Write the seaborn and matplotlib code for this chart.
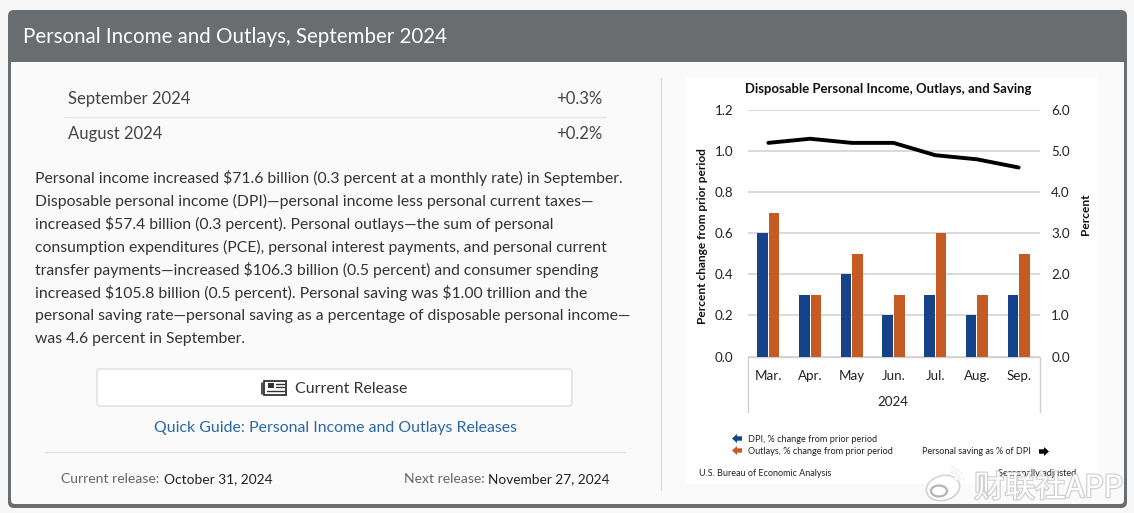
import pandas as pd
import seaborn as sns
import matplotlib.pyplot as plt
import matplotlib.patheffects as pe
from matplotlib.patches import FancyBboxPatch, Rectangle, Polygon, Ellipse, Arc

# Data
months = ['Mar.', 'Apr.', 'May', 'Jun.', 'Jul.', 'Aug.', 'Sep.']
dpi_change = [0.6, 0.3, 0.4, 0.2, 0.3, 0.2, 0.3]
outlays_change = [0.7, 0.3, 0.5, 0.3, 0.6, 0.3, 0.5]
saving_rate = [5.2, 5.3, 5.2, 5.2, 4.9, 4.8, 4.6]
left_ticks = [0.0, 0.2, 0.4, 0.6, 0.8, 1.0, 1.2]
right_ticks = [0.0, 1.0, 2.0, 3.0, 4.0, 5.0, 6.0]

monthly_rows = [('September 2024', '+0.3%'), ('August 2024', '+0.2%')]
body_lines = [
    'Personal income increased $71.6 billion (0.3 percent at a monthly rate) in September.',
    'Disposable personal income (DPI)—personal income less personal current taxes—',
    'increased $57.4 billion (0.3 percent). Personal outlays—the sum of personal',
    'consumption expenditures (PCE), personal interest payments, and personal current',
    'transfer payments—increased $106.3 billion (0.5 percent) and consumer spending',
    'increased $105.8 billion (0.5 percent). Personal saving was $1.00 trillion and the',
    'personal saving rate—personal saving as a percentage of disposable personal income—',
    'was 4.6 percent in September.',
]

W, H = 1134, 513
BLUE = '#15438a'
ORANGE = '#c55a22'
DARK = '#6a6d70'

sns.set_theme(style='white')
plt.rcParams['font.family'] = ['Lato', 'DejaVu Sans']

fig = plt.figure(figsize=(W / 100, H / 100), dpi=100, facecolor='#f7f7f7')

# Page layer, drawn in pixel coordinates
bg = fig.add_axes([0, 0, 1, 1], zorder=0)
bg.set_xlim(0, W)
bg.set_ylim(H, 0)
bg.axis('off')

bg.add_patch(FancyBboxPatch((11, 13), 1113, 492, boxstyle='round,pad=3,rounding_size=6',
                            fc=DARK, ec='none'))
bg.add_patch(FancyBboxPatch((12, 63), 1111, 440, boxstyle='round,pad=1,rounding_size=4',
                            fc='#fafafa', ec='none'))
bg.add_patch(Rectangle((11, 62), 1113, 6, fc='#fafafa', ec='none'))
bg.add_patch(Rectangle((686, 77), 413, 407, fc='white', ec='none'))
bg.plot([660.5, 660.5], [78, 490], color='#dddddd', lw=1)

bg.text(23, 37, 'Personal Income and Outlays, September 2024', color='white',
        fontsize=14.8, va='center', ha='left')

# Monthly change table
row_y = [99, 134]
for (label, value), y in zip(monthly_rows, row_y):
    bg.text(68, y, label, color='#444444', fontsize=12, va='center')
    bg.text(602, y, value, color='#444444', fontsize=12, va='center', ha='right')
bg.plot([64, 606], [116.5, 116.5], color='#e6e6e6', lw=1)

for i, line in enumerate(body_lines):
    bg.text(35, 178 + i * 23, line, color='#333333', fontsize=11.3, va='center', parse_math=False)

# Release button
bg.add_patch(FancyBboxPatch((99, 371), 471, 33, boxstyle='round,pad=2,rounding_size=3',
                            fc='white', ec='#c8c8c8', lw=0.6))
bg.add_patch(Rectangle((264, 380.5), 22, 14, fc='none', ec='#333333', lw=1.3))
bg.add_patch(Rectangle((267.5, 383), 6, 5, fc='#333333', ec='none'))
for y in [384, 387]:
    bg.plot([275.5, 283.5], [y, y], color='#333333', lw=1)
bg.plot([267, 283.5], [391, 391], color='#333333', lw=1)
bg.plot([261.5, 261.5], [383, 394], color='#333333', lw=1.2)
bg.text(295, 389, 'Current Release', color='#333333', fontsize=11.5, va='center')

bg.text(335, 428, 'Quick Guide: Personal Income and Outlays Releases', color='#2a67a8',
        fontsize=11.4, va='center', ha='center')
bg.plot([45, 625], [451.5, 451.5], color='#e2e2e2', lw=1)

bg.text(61, 479, 'Current release:', color='#666666', fontsize=10.1, va='center')
bg.text(163.5, 479, 'October 31, 2024', color='#222222', fontsize=9.9, va='center')
bg.text(404, 479, 'Next release:', color='#666666', fontsize=10.1, va='center')
bg.text(487.5, 479, 'November 27, 2024', color='#222222', fontsize=9.8, va='center')

# Chart
left, right, top, bottom = 747.5, 1039.5, 110, 356.5
ax = fig.add_axes([left / W, 1 - bottom / H, (right - left) / W, (bottom - top) / H], zorder=1)
ax.patch.set_alpha(0)

bars = pd.DataFrame({
    'month': months * 2,
    'change': dpi_change + outlays_change,
    'series': ['DPI'] * len(months) + ['Outlays'] * len(months),
})
sns.barplot(data=bars, x='month', y='change', hue='series', order=months,
            palette=[BLUE, ORANGE], width=0.55, gap=0.08, saturation=1, linewidth=0,
            legend=False, zorder=3, ax=ax)

ax.set_ylim(0, 1.2)
ax.set_yticks(left_ticks)
ax.set_yticklabels([f'{v:.1f}' for v in left_ticks], fontsize=9.6, color='#222222')
ax.set_xlabel('')
ax.set_ylabel('Percent change from prior period', fontsize=8.6, fontweight='bold',
              color='#111111', labelpad=5, y=0.49)
ax.yaxis.grid(True, color='#d9d9d9', lw=1.4, zorder=0)
ax.set_axisbelow(True)
ax.tick_params(axis='y', length=0, pad=10)
ax.tick_params(axis='x', length=0, pad=10, labelsize=9.6, labelcolor='#222222')
for side in ['top', 'left', 'right']:
    ax.spines[side].set_visible(False)
ax.spines['bottom'].set_color('#d0d0d0')
ax.spines['bottom'].set_linewidth(1)

twin = ax.twinx()
twin.set_zorder(2)
sns.lineplot(x=months, y=saving_rate, color='black', lw=2.8, ax=twin, sort=False)
twin.set_ylim(0, 6)
twin.set_yticks(right_ticks)
twin.set_yticklabels([f'{v:.1f}' for v in right_ticks], fontsize=9.6, color='#222222')
twin.set_ylabel('Percent', fontsize=8.6, fontweight='bold', color='#111111', labelpad=7, y=0.578)
twin.tick_params(axis='y', length=0, pad=8.5)
twin.grid(False)
for spine in twin.spines.values():
    spine.set_visible(False)
ax.set_xlim(-0.5, len(months) - 0.5)

# Category frame below the axis
for x in [left, right]:
    bg.plot([x, x], [bottom, 412], color='#cfcfcf', lw=1)
bg.text((left + right) / 2 - 0.5, 402.5, '2024', fontsize=9.6, color='#222222',
        ha='center', va='center')

# Chart title and legend
bg.text(888.5, 89, 'Disposable Personal Income, Outlays, and Saving', fontsize=9.45,
        fontweight='bold', color='#111111', ha='center', va='center')


def arrow(x, y, color, flip=False):
    # small block arrow, 10 px wide
    d = -1 if flip else 1
    pts = [(0, 0), (5, -4.5), (5, -2.2), (10, -2.2), (10, 2.2), (5, 2.2), (5, 4.5)]
    bg.add_patch(Polygon([(x + d * a, y + b) for a, b in pts], fc=color, ec='none'))


arrow(732, 438.5, BLUE)
arrow(732, 450.5, ORANGE)
arrow(1049, 451.5, 'black', flip=True)
bg.text(748.5, 440, 'DPI, % change from prior period', fontsize=6.6, color='#222222', va='center')
bg.text(748.5, 452, 'Outlays, % change from prior period', fontsize=6.6, color='#222222', va='center')
bg.text(922.5, 452, 'Personal saving as % of DPI', fontsize=6.5, color='#222222', va='center')
bg.text(699, 473, 'U.S. Bureau of Economic Analysis', fontsize=6.5, color='#222222', va='center')
bg.text(1076, 473, 'Seasonally adjusted', fontsize=6.6, color='#222222', va='center', ha='right')

# Watermark
top_layer = fig.add_axes([0, 0, 1, 1], zorder=5)
top_layer.set_xlim(0, W)
top_layer.set_ylim(H, 0)
top_layer.axis('off')
halo = [pe.withStroke(linewidth=2.5, foreground='#9a9a9a66')]
logo = Ellipse((943, 488), 32, 23, angle=-15, fc='white', ec='none')
logo.set_path_effects(halo)
top_layer.add_patch(logo)
top_layer.add_patch(Ellipse((939, 491), 16, 11, fc='none', ec='#b5b5b5', lw=1.6))
for size in [14, 24]:
    wave = Arc((950, 481), size, size, theta1=-85, theta2=-5, color='white', lw=2)
    wave.set_path_effects(halo)
    top_layer.add_patch(wave)
mark = top_layer.text(974, 488.5, '财联社APP', fontsize=22, color='white',
                      family=['Noto Sans CJK SC', 'DejaVu Sans'], va='center', ha='left')
mark.set_path_effects([pe.withStroke(linewidth=1.8, foreground='#9a9a9a70')])

plt.savefig('out.png', dpi=100)
